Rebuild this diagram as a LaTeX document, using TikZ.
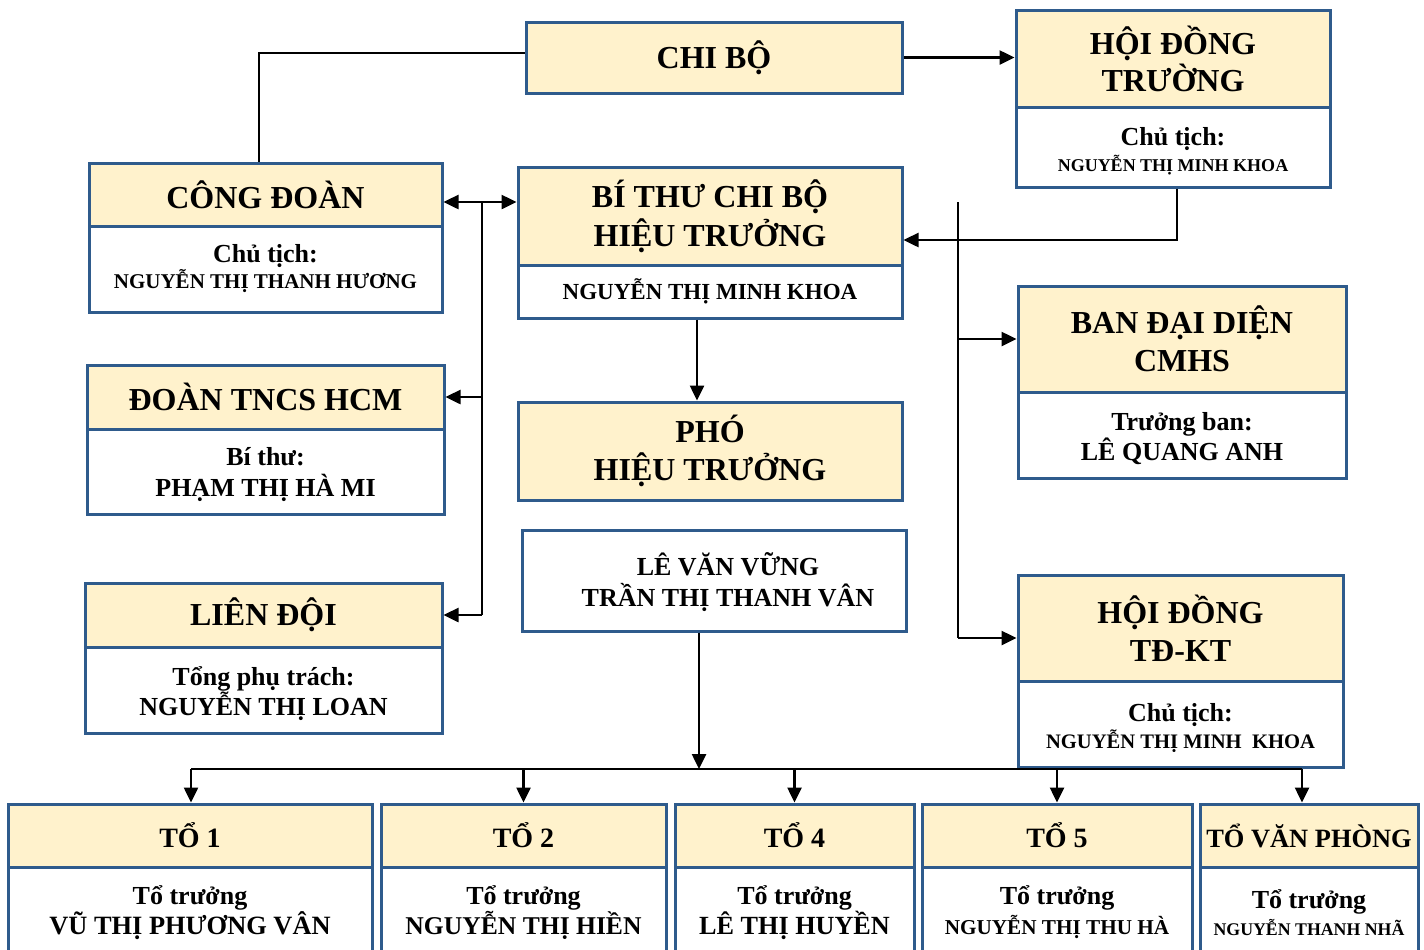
\documentclass[tikz,border=0pt]{standalone}
\usepackage{fontspec}
\setmainfont{Liberation Serif}
\usetikzlibrary{arrows.meta}
\definecolor{bx}{HTML}{2F5B8C}
\definecolor{yf}{HTML}{FFF2CC}
\newcommand\fs[2]{\fontsize{#1}{#2}\selectfont}
\begin{document}
\begin{tikzpicture}[x=0.5pt,y=-0.5pt,
 part/.style={draw=bx, line width=1.5pt, inner sep=0pt, align=center, rectangle},
 ytop/.style={part, fill=yf},
 wbot/.style={part, fill=white},
 area/.style n args={4}{minimum width={(#3-#1)*0.5pt}, minimum height={(#4-#2)*0.5pt}, at={({(#1+#3)/2},{(#2+#4)/2})}},
 txt/.style={align=center, inner sep=0pt},
 ttl/.style={font=\bfseries\fs{16}{19.5}},
 arr/.style={line width=1.25pt, -{Triangle[length=7.5pt,width=7pt]}},
 arrb/.style={line width=1.25pt, {Triangle[length=7.5pt,width=7pt]}-{Triangle[length=7.5pt,width=7pt]}},
 ln/.style={line width=0.8pt},
 thn/.style={line width=0.7pt}]
\useasboundingbox[fill=white] (0,0) rectangle (1424,949);
\clip (0,0) rectangle (1424,949);

% top
\node[ytop, ttl, area={526}{22}{902}{93}] (chibo) {CHI BỘ};
\node[ytop, ttl, font=\bfseries\fs{16}{18.5}, area={1016}{10}{1330}{107}] (hdtT) {HỘI ĐỒNG\\TRƯỜNG};
\node[wbot, area={1016}{107}{1330}{187},
  label={[name=hdtBt, txt, font=\bfseries\fs{13}{13}, yshift=-2.2pt]center:{Chủ tịch:\\\fs{9}{13}NGUYỄN THỊ MINH KHOA}}] (hdtB) {};

% left column
\node[ytop, ttl, area={89}{163}{442}{226}] (congT) {CÔNG ĐOÀN};
\node[wbot, font=\bfseries\fs{13}{13}, area={89}{226}{442}{312}] (congB) {Chủ tịch:\\\fs{10.5}{13}NGUYỄN THỊ THANH HƯƠNG};
\node[ytop, ttl, area={87}{365}{444}{429}] (doanT) {ĐOÀN TNCS HCM};
\node[wbot, area={87}{429}{444}{514},
  label={[name=doanBt, txt, font=\bfseries\fs{13}{15.5}, yshift=-1.5pt]center:{Bí thư:\\PHẠM THỊ HÀ MI}}] (doanB) {};
\node[ytop, ttl, area={85}{583}{442}{647}] (lienT) {LIÊN ĐỘI};
\node[wbot, area={85}{647}{442}{733},
  label={[name=lienBt, txt, font=\bfseries\fs{13}{15}, yshift=-2pt]center:{Tổng phụ trách:\\NGUYỄN THỊ LOAN}}] (lienB) {};

% centre column
\node[ytop, ttl, area={518}{167}{902}{265}] (bthuT) {BÍ THƯ CHI BỘ\\HIỆU TRƯỞNG};
\node[wbot, font=\bfseries\fs{11.5}{13}, area={518}{265}{902}{318}] (bthuB) {NGUYỄN THỊ MINH KHOA};
\node[ytop, ttl, font=\bfseries\fs{16}{19}, area={518}{402}{902}{500}] (phoT) {PHÓ\\HIỆU TRƯỞNG};
\node[wbot, area={522}{530}{906}{631},
  label={[name=lvvt, txt, font=\bfseries\fs{13}{15.5}, xshift=7pt, yshift=-1pt]center:{LÊ VĂN VỮNG\\TRẦN THỊ THANH VÂN}}] (lvv) {};

% right column
\node[ytop, ttl, font=\bfseries\fs{16}{19}, area={1018}{286}{1346}{392}] (banT) {BAN ĐẠI DIỆN\\CMHS};
\node[wbot, area={1018}{392}{1346}{478},
  label={[name=banBt, txt, font=\bfseries\fs{13}{15}, yshift=-1.7pt]center:{Trưởng ban:\\LÊ QUANG ANH}}] (banB) {};
\node[ytop, ttl, font=\bfseries\fs{16}{19}, area={1018}{575}{1343}{681}] (tdT) {HỘI ĐỒNG\\TĐ-KT};
\node[wbot, area={1018}{681}{1343}{767},
  label={[name=tdBt, txt, font=\bfseries\fs{13}{13.5}, yshift=-2pt]center:{Chủ tịch:\\\fs{10.3}{13.5}NGUYỄN THỊ MINH\ \ KHOA}}] (tdB) {};

% bottom row
\node[ytop, font=\bfseries\fs{14}{16}, area={8}{804}{372}{867}] (t1T) {TỔ 1};
\node[wbot, font=\bfseries\fs{13}{15}, area={8}{867}{372}{958}] (t1B) {Tổ trưởng\\\fs{13.2}{15}VŨ THỊ PHƯƠNG VÂN};
\node[ytop, font=\bfseries\fs{14}{16}, area={381}{804}{666}{867}] (t2T) {TỔ 2};
\node[wbot, font=\bfseries\fs{13}{15}, area={381}{867}{666}{958}] (t2B) {Tổ trưởng\\\fs{12.8}{15}NGUYỄN THỊ HIỀN};
\node[ytop, font=\bfseries\fs{14}{16}, area={675}{804}{914}{867}] (t4T) {TỔ 4};
\node[wbot, font=\bfseries\fs{13}{15}, area={675}{867}{914}{958}] (t4B) {Tổ trưởng\\\fs{13.1}{15}LÊ THỊ HUYỀN};
\node[ytop, font=\bfseries\fs{14}{16}, area={922}{804}{1192}{867}] (t5T) {TỔ 5};
\node[wbot, font=\bfseries\fs{13}{15}, area={922}{867}{1192}{958}] (t5B) {Tổ trưởng\\\fs{10.6}{15}NGUYỄN THỊ THU HÀ};
\node[ytop, font=\bfseries\fs{13.2}{16}, area={1200}{804}{1418}{867}] (tvT) {TỔ VĂN PHÒNG};
\node[wbot, font=\bfseries\fs{13}{13.5}, area={1200}{867}{1418}{958}] (tvB) {Tổ trưởng\\\fs{8.9}{13.5}NGUYỄN THANH NHÃ};

% connectors
\coordinate (c1) at (259,53);
\draw[ln] (chibo.west |- c1) -- (c1) -- (c1 |- congT.north);
\draw[arr] (chibo.east) -- (chibo.east -| hdtT.west);
\coordinate (c2) at (1177,240);
\draw[arr] (c2 |- hdtB.south) -- (c2) -- (c2 -| bthuT.east);

\coordinate (v1) at (482,202);
\draw[arrb] (v1 -| congT.east) -- (v1 -| bthuT.west);
\draw[thn] (v1) -- (v1 |- lienT.east);
\draw[arr] (v1 |- doanT.east) -- (doanT.east);
\draw[arr] (v1 |- lienT.east) -- (lienT.east);

\coordinate (v2) at (958,202);
\coordinate (v3) at (958,638);
\draw[thn] (v2) -- (v3);
\draw[arr] (v2 |- banT.west) -- (banT.west);
\draw[arr] (v3) -- (v3 -| tdT.west);

\coordinate (c3) at (697,0);
\draw[arr] (c3 |- bthuB.south) -- (c3 |- phoT.north);

\coordinate (hub) at (699,769);
\draw[arr] (hub |- lvv.south) -- (hub);
\coordinate (b1) at (191,769);
\coordinate (b2) at (1302,769);
\draw[ln] (b1) -- (b2);
\draw[arr] (b1) -- (b1 |- t1T.north);
\draw[arr] (t2T.north |- b1) -- (t2T.north);
\draw[arr] (t4T.north |- b1) -- (t4T.north);
\draw[arr] (t5T.north |- b1) -- (t5T.north);
\draw[arr] (b2) -- (b2 |- tvT.north);
\end{tikzpicture}
\end{document}
